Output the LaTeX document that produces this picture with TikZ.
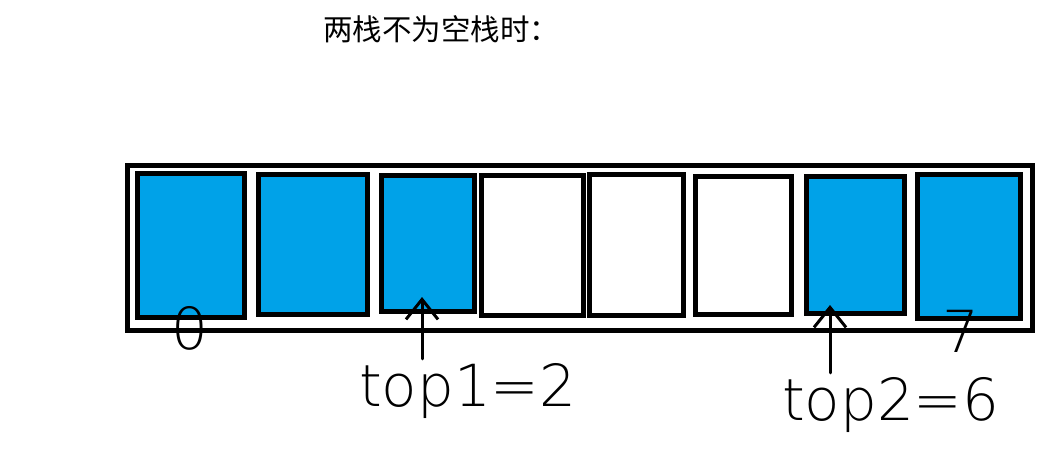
\documentclass[tikz,border=0pt]{standalone}
\usepackage{fontspec}
\usepackage{xcolor}
\usetikzlibrary{arrows.meta}
\newfontfamily\cjkfont{Noto Sans CJK SC}
\newfontfamily\handfont{DejaVu Sans ExtraLight}
\definecolor{stackblue}{HTML}{00A2E8}

\begin{document}
\begin{tikzpicture}[x=1pt, y=-1pt,
		cell/.style={draw=black, line width=5pt, inner sep=0pt},
		used/.style={cell, fill=stackblue},
		free/.style={cell, fill=white},
		handtext/.style={black, inner sep=0pt, outer sep=4pt, font=\handfont\fontsize{58}{60}\selectfont},
		pointer/.style={draw=black, line width=3pt, line cap=round, -{Straight Barb[length=20pt, width=32pt]}}]
		\useasboundingbox (0,0) rectangle (1044,449);
		\node[black, anchor=base west, inner sep=0pt, font=\cjkfont\fontsize{29.5}{32}\selectfont] (title) at (323,41) {两栈不为空栈时：};
		\node[cell, minimum width=905pt, minimum height=165pt] (stack) at (580,248) {};
		\node[used, minimum width=106.7pt, minimum height=144pt] (b0) at (190.85,245.5) {};
		\node[used, minimum width=109pt, minimum height=139.4pt] (b1) at (313,244.5) {};
		\node[used, minimum width=92.7pt, minimum height=135.7pt] (b2) at (427.85,243.65) {};
		\node[free, minimum width=102pt, minimum height=140pt] (b3) at (532.5,245.2) {};
		\node[free, minimum width=94.5pt, minimum height=140pt] (b4) at (636.25,245) {};
		\node[free, minimum width=96pt, minimum height=137.5pt] (b5) at (743,245.25) {};
		\node[used, minimum width=98pt, minimum height=136.5pt] (b6) at (855,244.75) {};
		\node[used, minimum width=102.5pt, minimum height=143pt] (b7) at (968.75,246.5) {};
		\node[handtext, anchor=base] (first) at (190,349) {0};
		\node[handtext, anchor=base] (last) at (961,352) {7};
		\node[handtext, anchor=base west] (top1) at (355,406) {top1=2};
		\node[handtext, anchor=base west] (top2) at (778,420) {top2=6};
		\coordinate (tip1) at (422,297);
		\coordinate (tip2) at (830,305);
		\draw[pointer] (top1.north -| tip1) -- (tip1);
		\draw[pointer] (top2.north -| tip2) -- (tip2);
	\end{tikzpicture}
\end{document}
